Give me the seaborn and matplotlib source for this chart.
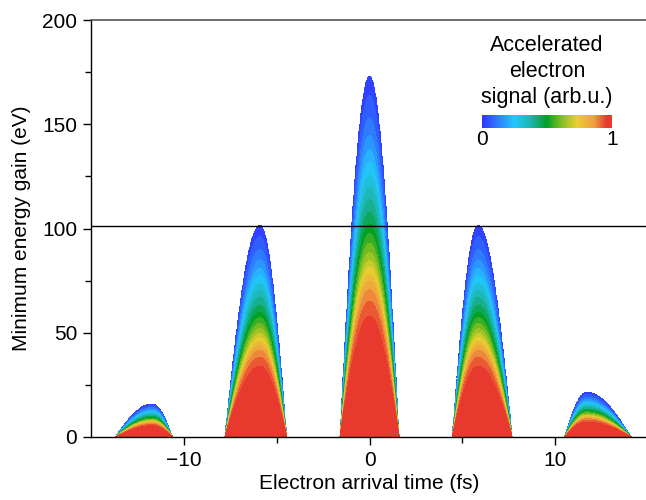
### Accelerated electron signal vs arrival time and minimum energy gain ###

import matplotlib.pyplot as plt
import numpy as np
import seaborn as sns
from matplotlib.colors import LinearSegmentedColormap

# half-cycle peaks of the cutoff energy (fs, eV)
peak_centers = [-11.7, -5.9, 0.0, 5.85, 11.7]
peak_heights = [16.0, 101.5, 173.0, 101.5, 21.5]
peak_left_halfwidth = [2.0, 1.9, 1.6, 1.4, 1.2]
peak_right_halfwidth = [1.1, 1.45, 1.6, 1.85, 2.4]

# signal as a function of energy / cutoff energy
profile_fraction = [0.0, 0.28, 0.36, 0.42, 0.46, 0.50, 0.56, 0.60, 0.66, 0.73, 0.82, 0.90, 1.0]
profile_signal = [1.0, 1.0, 0.93, 0.84, 0.74, 0.64, 0.53, 0.46, 0.38, 0.28, 0.16, 0.08, 0.01]

threshold_energy = 101.0

cmap_positions = [0.0, 0.12, 0.25, 0.38, 0.5, 0.62, 0.73, 0.86, 0.96, 1.0]
cmap_colors = ["#3034ff", "#2f7cff", "#22c8ff", "#1cb4a8", "#00a024",
               "#8cc022", "#e8d030", "#f0a040", "#e8392f", "#e8392f"]


def cutoff_energy(t):
    ecut = np.zeros_like(t)
    for c, h, wl, wr in zip(peak_centers, peak_heights,
                            peak_left_halfwidth, peak_right_halfwidth):
        w = np.where(t < c, wl, wr)
        x = (t - c) / w
        dome = np.where(np.abs(x) < 1, h * np.cos(np.pi * x / 2), 0.0)
        ecut = np.maximum(ecut, dome)
    return ecut


sns.set_theme(style="ticks")
plt.rcParams["font.family"] = ["Liberation Sans", "DejaVu Sans"]
plt.rcParams["text.color"] = "black"
plt.rcParams["axes.labelcolor"] = "black"

t = np.linspace(-15, 15, 1500)
e = np.linspace(0, 200, 900)
T, E = np.meshgrid(t, e)
ecut = cutoff_energy(T)
with np.errstate(divide="ignore", invalid="ignore"):
    frac = E / ecut
signal = np.interp(frac, profile_fraction, profile_signal)
signal = np.where((ecut > 0) & (frac < 1), signal, np.nan)

cmap = LinearSegmentedColormap.from_list(
    "signal", list(zip(cmap_positions, cmap_colors)))
levels = np.linspace(0, 1.0001, 22)

fig = plt.figure(figsize=(6.46, 5.0), dpi=100)
ax = fig.add_axes([0.141, 0.126, 0.862, 0.834])
cf = ax.contourf(T, E, signal, levels=levels, cmap=cmap, vmin=0, vmax=1)
ax.axhline(threshold_energy, color="black", lw=1)

ax.set_xlim(-15, 15)
ax.set_ylim(0, 200)
ax.set_xticks([-10, 0, 10])
ax.set_xticks([-5, 5], minor=True)
ax.set_yticks([0, 50, 100, 150, 200])
ax.set_yticks([25, 75, 125, 175], minor=True)
ax.tick_params(which="major", direction="out", length=6, width=1, pad=4,
               labelsize=15, color="black", labelcolor="black")
ax.tick_params(which="minor", direction="out", length=4, width=1, color="black")
ax.set_xlabel("Electron arrival time (fs)", fontsize=15, labelpad=3)
ax.set_ylabel("Minimum energy gain (eV)", fontsize=15, labelpad=8)
for side in ["left", "bottom"]:
    ax.spines[side].set_color("black")
    ax.spines[side].set_linewidth(1)
ax.spines["top"].set_color("#555555")
ax.spines["top"].set_linewidth(1.2)
ax.spines["right"].set_visible(False)

# colour bar inside the axes
cax = fig.add_axes([0.746, 0.745, 0.201, 0.025])
sm = plt.cm.ScalarMappable(cmap=cmap, norm=plt.Normalize(0, 1))
cb = fig.colorbar(sm, cax=cax, orientation="horizontal", ticks=[0, 1])
cb.outline.set_visible(False)
cax.tick_params(length=0, labelsize=15, pad=2, labelcolor="black")
fig.text(0.847, 0.784, "Accelerated\nelectron\nsignal (arb.u.)",
         ha="center", va="bottom", fontsize=15.5, linespacing=1.3)

fig.savefig("out.png", dpi=100)
